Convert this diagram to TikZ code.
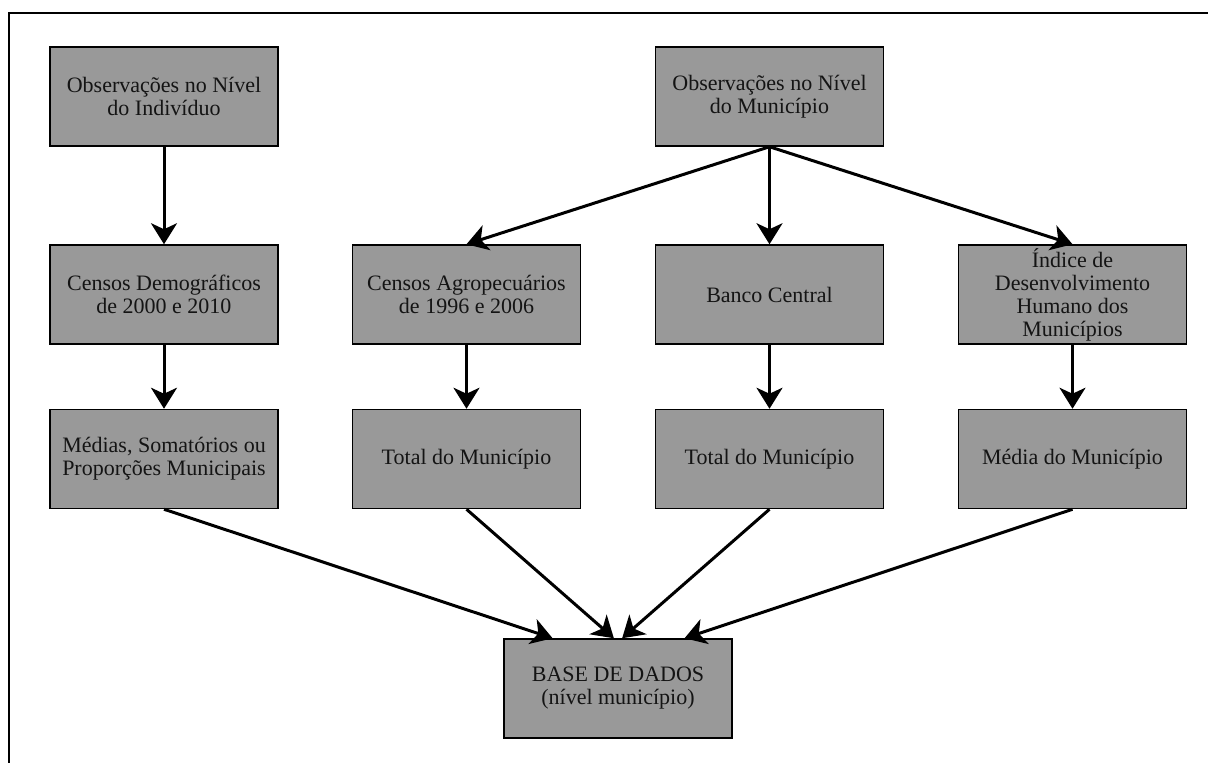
\documentclass[tikz,border=0pt]{standalone}
\usepackage{fontspec}
\setmainfont{Liberation Serif}
\usetikzlibrary{arrows.meta,calc}
\definecolor{boxfill}{HTML}{999999}
\definecolor{txt}{HTML}{141414}
\begin{document}
\begin{tikzpicture}[x=1pt,y=-1pt,
  box/.style={draw=black,line width=1.5pt,fill=boxfill,minimum width=228pt,minimum height=99pt,
    inner sep=0pt,align=center,text=txt,font=\rmfamily\fontsize{22}{23}\selectfont},
  arr/.style={line width=3pt,-{Stealth[length=21pt,width=26pt,inset=6pt]}}]
\useasboundingbox (0,0) rectangle (1208,763);
\fill[white] (0,0) rectangle (1208,763);
\draw[line width=2pt] (1212,12.5) -- (9,12.5) -- (9,767);
\node[box] (A) at (164,96.5) {Observações no Nível\\do Indivíduo};
\node[box] (B) at (769.5,96.5) {Observações no Nível\\do Município};
\node[box] (C) at (164,294.5) {Censos Demográficos\\de 2000 e 2010};
\node[box] (D) at (466.5,294.5) {Censos Agropecuários\\de 1996 e 2006};
\node[box] (E) at (769.5,294.5) {Banco Central};
\node[box] (F) at (1072.5,294.5) {Índice de\\Desenvolvimento\\Humano dos\\Municípios};
\node[box] (G) at (164,459) {Médias, Somatórios ou\\Proporções Municipais};
\node[box] (H) at (466.5,459) {Total do Município};
\node[box] (I) at (769.5,459) {Total do Município};
\node[box] (J) at (1072.5,459) {Média do Município};
\node[box] (K) at (618,688.5) {BASE DE DADOS\\(nível município)};
\coordinate (k1) at ($(K.north west)!0.215!(K.north east)$);
\coordinate (k2) at ($(K.north west)!0.482!(K.north east)$);
\coordinate (k3) at ($(K.north west)!0.518!(K.north east)$);
\coordinate (k4) at ($(K.north west)!0.79!(K.north east)$);
\draw[arr] (A.south) -- (C.north);
\draw[arr] (B.south) -- (D.north);
\draw[arr] (B.south) -- (E.north);
\draw[arr] (B.south) -- (F.north);
\draw[arr] (C.south) -- (G.north);
\draw[arr] (D.south) -- (H.north);
\draw[arr] (E.south) -- (I.north);
\draw[arr] (F.south) -- (J.north);
\draw[arr] (G.south) -- (k1);
\draw[arr] (H.south) -- (k2);
\draw[arr] (I.south) -- (k3);
\draw[arr] (J.south) -- (k4);
\end{tikzpicture}
\end{document}
